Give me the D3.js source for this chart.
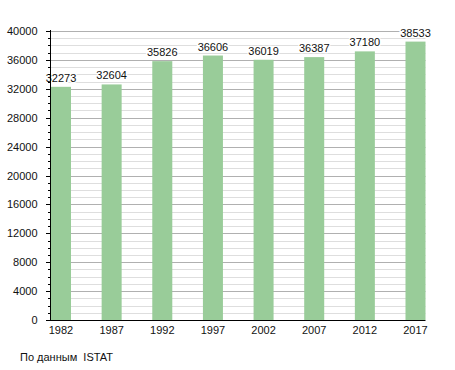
<!DOCTYPE html>
<html>
<head>
<meta charset="utf-8">
<script src="https://cdn.jsdelivr.net/npm/d3@7"></script>
<style>
  body { margin: 0; background: #fff; }
  svg { display: block; font-family: "Liberation Sans", Arial, sans-serif; }
</style>
</head>
<body>
<svg id="chart" width="455" height="370"></svg>
<script>
// population by census year (ISTAT)
const years = ['1982', '1987', '1992', '1997', '2002', '2007', '2012', '2017'];
const population = [32273, 32604, 35826, 36606, 36019, 36387, 37180, 38533];
const majorTicks = [0, 4000, 8000, 12000, 16000, 20000, 24000, 28000, 32000, 36000, 40000];
const sourceNote = 'По данным  ISTAT';

(function(){
  const svg = d3.select('#chart');
  const plotL = 50, plotR = 425.5, plotT = 31, plotB = 320;

  const x = d3.scaleBand().domain(years).range([51, plotR]).paddingInner(0.605).paddingOuter(0);
  const y = d3.scaleLinear().domain([0, 40000]).range([plotB, plotT]);

  const minorTicks = d3.range(0, 40001, 1000).filter(v => v % 4000 !== 0);
  const py = d => Math.round(y(d)) + 0.5;

  // grid
  svg.append('g').selectAll('line').data(minorTicks).enter().append('line')
    .attr('x1', plotL).attr('x2', plotR)
    .attr('y1', py).attr('y2', py)
    .attr('stroke', '#dedede').attr('stroke-width', 1);
  svg.append('g').selectAll('line').data(majorTicks.filter(d => d > 0)).enter().append('line')
    .attr('x1', plotL).attr('x2', plotR)
    .attr('y1', py).attr('y2', py)
    .attr('stroke', '#b0b0b0').attr('stroke-width', 1);

  // bars
  svg.append('g').selectAll('rect').data(population).enter().append('rect')
    .attr('x', (d, i) => x(years[i]))
    .attr('width', x.bandwidth())
    .attr('y', d => y(d))
    .attr('height', d => plotB - y(d))
    .attr('fill', '#99cc99');

  // value labels
  svg.append('g').selectAll('text').data(population).enter().append('text')
    .attr('x', (d, i) => x(years[i]) + x.bandwidth() / 2)
    .attr('y', d => y(d) - 5)
    .attr('text-anchor', 'middle')
    .attr('font-size', 11)
    .attr('fill', '#111')
    .attr('stroke', '#fff').attr('stroke-width', 2.5).attr('paint-order', 'stroke')
    .text(d => d);

  // y axis
  const yAxis = svg.append('g');
  yAxis.append('line').attr('x1', plotL + 0.5).attr('x2', plotL + 0.5)
    .attr('y1', plotT - 1).attr('y2', plotB).attr('stroke', '#000');
  yAxis.selectAll('line.minor').data(minorTicks).enter().append('line')
    .attr('class', 'minor')
    .attr('x1', plotL - 2).attr('x2', plotL)
    .attr('y1', py).attr('y2', py)
    .attr('stroke', '#000');
  yAxis.selectAll('line.major').data(majorTicks).enter().append('line')
    .attr('class', 'major')
    .attr('x1', plotL - 4).attr('x2', plotL)
    .attr('y1', py).attr('y2', py)
    .attr('stroke', '#000');
  yAxis.selectAll('text').data(majorTicks).enter().append('text')
    .attr('x', 37.5).attr('y', d => y(d) + 4)
    .attr('text-anchor', 'end').attr('font-size', 11).attr('fill', '#111')
    .text(d => d);

  // x axis
  svg.append('line').attr('x1', plotL).attr('x2', plotR)
    .attr('y1', plotB + 0.5).attr('y2', plotB + 0.5)
    .attr('stroke', '#000').attr('stroke-width', 1.2);
  svg.append('g').selectAll('text').data(years).enter().append('text')
    .attr('x', d => x(d) + x.bandwidth() / 2)
    .attr('y', plotB + 14)
    .attr('text-anchor', 'middle').attr('font-size', 11).attr('fill', '#111')
    .text(d => d);

  svg.append('text').attr('x', 20).attr('y', 361)
    .attr('font-size', 11).attr('fill', '#111')
    .attr('xml:space', 'preserve').style('white-space', 'pre')
    .text(sourceNote);
})();
</script>
</body>
</html>
